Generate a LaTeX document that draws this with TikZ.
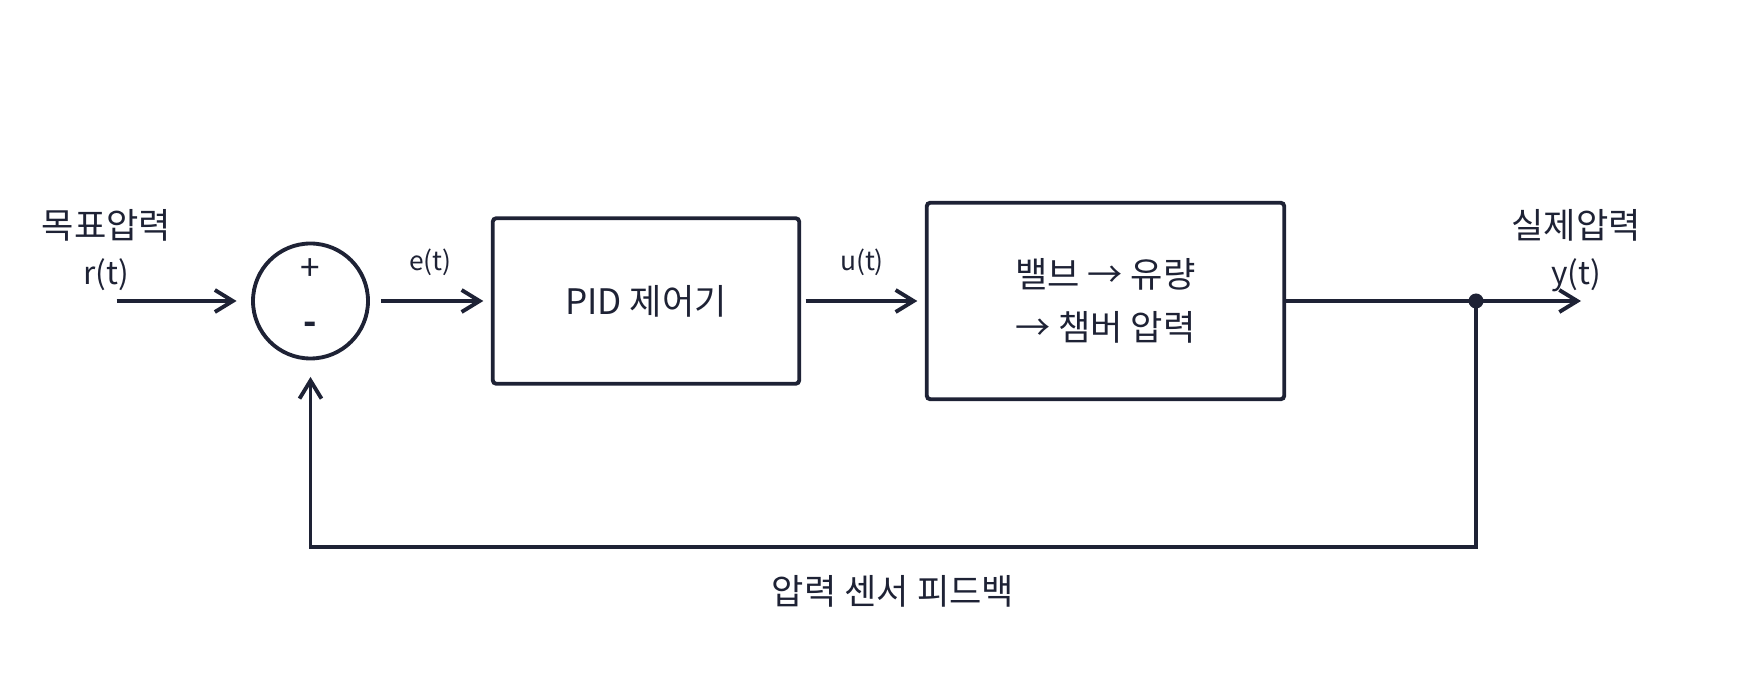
\documentclass[tikz,border=0pt]{standalone}
\usepackage{fontspec}
\setmainfont{Noto Sans CJK KR}
\usetikzlibrary{arrows.meta}
\definecolor{linie}{HTML}{1E2235}

\tikzset{
  block/.style={draw=linie, rounded corners=2pt, inner sep=0pt, align=center,
    font=\fontsize{20}{30}\selectfont},
  pfeil/.style={-{Straight Barb[length=3.6mm,width=4.4mm]}},
  gross/.style={font=\fontsize{20}{22}\selectfont, inner sep=0pt},
  mittel/.style={font=\fontsize{18}{20}\selectfont, inner sep=0pt},
  klein/.style={font=\fontsize{15}{17}\selectfont, inner sep=0pt}
}

\begin{document}
\begin{tikzpicture}[line width=2.2pt, draw=linie, text=linie]
    \useasboundingbox (0,-7.9) rectangle (34.8,6.02);
    % Summierstelle:
    \node[circle, draw, minimum size=2.3cm, inner sep=0pt] (sum) at (6.21,0) {};
    \node[gross] (plus) at (6.21,0.63) {+}; % plus
    \node[gross] (minus) at (6.21,-0.55) {\textbf{-}}; % minus
    % Bloecke:
    \node[block, minimum width=6.13cm, minimum height=3.31cm] (pid) at (12.92,0) {PID 제어기};
    \node[block, minimum width=7.15cm, minimum height=3.93cm] (strecke) at (22.11,0) {밸브 → 유량\\→ 챔버 압력};
    % Hilfspunkte:
    \coordinate (ein) at (2.33,0);
    \coordinate (knoten) at (29.52,0);
    \coordinate (aus) at (31.62,0);
    \coordinate (unten) at (29.52,-4.92);
    \coordinate (links) at (6.21,-4.92);
    % Beschriftungen:
    \node[gross] (soll) at (2.13,1.52) {목표압력};
    \node[mittel] (rt) at (2.13,0.52) {r(t)};
    \node[klein] (et) at (8.61,0.78) {e(t)};
    \node[klein] (ut) at (17.24,0.78) {u(t)};
    \node[gross] (ist) at (31.52,1.52) {실제압력};
    \node[mittel] (yt) at (31.52,0.52) {y(t)};
    \node[gross] (rueck) at (17.86,-5.81) {압력 센서 피드백};
    % Pfeile:
    \draw[pfeil, shorten >=0.29cm] (ein) -- (sum.west); % r(t)
    \draw[pfeil, shorten <=0.22cm, shorten >=0.15cm] (sum.east) -- (pid.west); % e(t)
    \draw[pfeil, shorten <=0.09cm, shorten >=0.15cm] (pid.east) -- (strecke.west); % u(t)
    \draw (strecke.east) -- (knoten);
    \draw[pfeil] (knoten) -- (aus); % y(t)
    \fill[linie] (knoten) circle (0.15);
    \draw[pfeil, shorten >=0.33cm] (knoten) -- (unten) -- (links) -- (sum.south); % Rueckfuehrung
\end{tikzpicture}
\end{document}
